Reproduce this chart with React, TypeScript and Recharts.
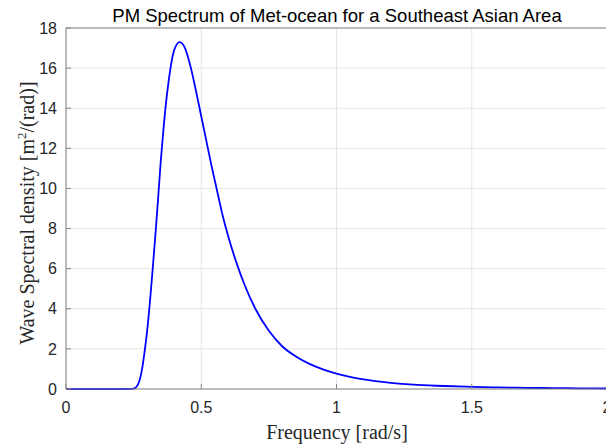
import { LineChart, Line, XAxis, YAxis, CartesianGrid, ReferenceLine, Label } from 'recharts';

// frequency [rad/s] and spectral density
const frequencies = [
  0, 0.1, 0.2, 0.22, 0.24, 0.25, 0.26, 0.27, 0.28, 0.29, 0.3, 0.31, 0.32, 0.33, 0.34, 0.35, 0.36, 0.37,
  0.38, 0.39, 0.4, 0.42, 0.44, 0.46, 0.48, 0.5, 0.52, 0.54, 0.56, 0.58, 0.6, 0.63, 0.66, 0.7, 0.75, 0.8,
  0.85, 0.9, 0.95, 1.0, 1.1, 1.2, 1.3, 1.4, 1.5, 1.6, 1.7, 1.8, 1.9, 2.0,
];
const density = [
  0, 0, 0, 0, 0.005, 0.02, 0.1, 0.35, 0.9, 1.8, 2.9, 4.3, 5.9, 7.6, 9.4, 11.3, 12.9, 14.3,
  15.4, 16.3, 16.9, 17.3, 17.0, 16.1, 14.9, 13.6, 12.3, 11.0, 9.8, 8.6, 7.6, 6.3, 5.2, 4.0, 2.9, 2.12,
  1.62, 1.25, 0.98, 0.77, 0.48, 0.31, 0.21, 0.15, 0.11, 0.08, 0.06, 0.045, 0.035, 0.025,
];
const xTicks = [0, 0.5, 1, 1.5, 2];
const yTicks = [0, 2, 4, 6, 8, 10, 12, 14, 16, 18];

const data = frequencies.map((f, i) => ({ f, s: density[i] }));

const sans = '"Liberation Sans", Arial, Helvetica, sans-serif';
const serif = '"Liberation Serif", "Times New Roman", serif';
const axisGray = '#858585';

export default function App() {
  return (
    <div style={{ position: 'absolute', left: 0, top: 0, width: 606, height: 446, overflow: 'hidden', background: '#fff' }}>
      <LineChart
        width={612}
        height={446}
        data={data}
        margin={{ top: 28, right: 5, bottom: 27, left: 26 }}
      >
        <CartesianGrid stroke="#e6e6e6" strokeWidth={1} />
        <XAxis
          dataKey="f"
          type="number"
          domain={[0, 2]}
          ticks={xTicks}
          height={30}
          stroke={axisGray}
          tickSize={-5}
          tickMargin={18}
          tick={{ fill: '#262626', fontSize: 16, fontFamily: sans }}
          interval={0}
        >
          <Label
            content={() => (
              <text x={337} y={439} textAnchor="middle" fontFamily={serif} fontSize={20} fill="#262626">
                Frequency [rad/s]
              </text>
            )}
          />
        </XAxis>
        <XAxis
          xAxisId="top"
          dataKey="f"
          type="number"
          orientation="top"
          domain={[0, 2]}
          ticks={xTicks}
          height={0}
          stroke={axisGray}
          tickSize={-5}
          tickFormatter={() => ''}
        />
        <YAxis
          type="number"
          domain={[0, 18]}
          ticks={yTicks}
          width={40}
          stroke={axisGray}
          tickSize={-5}
          tickMargin={14}
          tick={{ fill: '#262626', fontSize: 16, fontFamily: sans }}
          interval={0}
        >
          <Label
            content={() => (
              <text
                x={34}
                y={213}
                transform="rotate(-90 34 213)"
                textAnchor="middle"
                fontFamily={serif}
                fontSize={20}
                fill="#262626"
              >
                Wave Spectral density [m
                <tspan dy={-8} fontSize={13}>2</tspan>
                <tspan dy={8}>/(rad)]</tspan>
              </text>
            )}
          />
        </YAxis>
        <ReferenceLine y={18} stroke={axisGray} />
        <Line
          type="monotone"
          dataKey="s"
          stroke="#0000ff"
          strokeWidth={1.8}
          dot={false}
          isAnimationActive={false}
        />
        <text x={337} y={21.5} textAnchor="middle" fontFamily={sans} fontSize={18.5} fill="#000">
          PM Spectrum of Met-ocean for a Southeast Asian Area
        </text>
      </LineChart>
    </div>
  );
}
